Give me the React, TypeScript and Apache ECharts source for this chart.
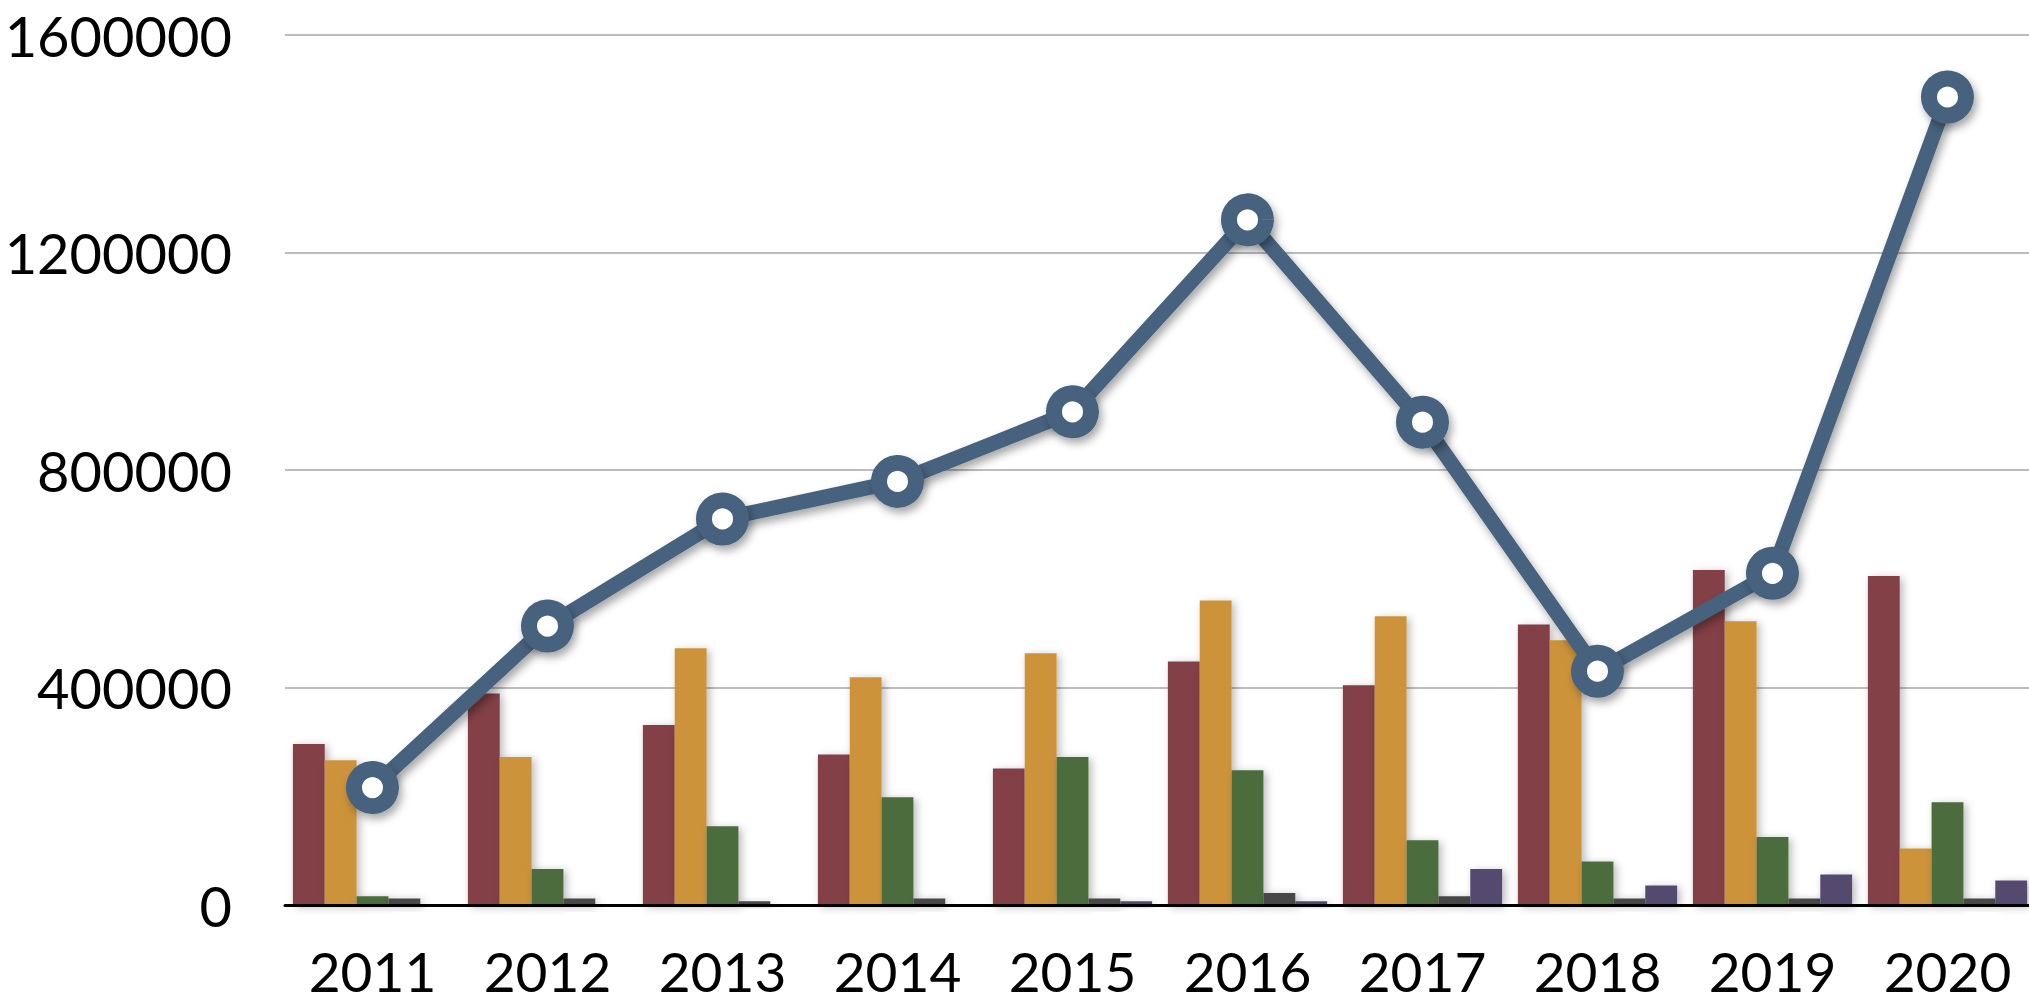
import React, { useEffect, useRef } from "react";
import * as echarts from "echarts";

const categories = ["2011", "2012", "2013", "2014", "2015", "2016", "2017", "2018", "2019", "2020"];
const redValues = [296000, 389000, 331000, 277000, 251000, 448000, 404000, 516000, 616000, 605000];
const goldValues = [266000, 272000, 472000, 419000, 463000, 560000, 531000, 487000, 522000, 104000];
const greenValues = [16000, 66000, 145000, 198000, 272000, 248000, 119000, 80000, 125000, 189000];
const greyValues = [12000, 12000, 7000, 12000, 12000, 22000, 16000, 12000, 12000, 12000];
const purpleValues = [0, 0, 0, 0, 7000, 7000, 66000, 36000, 56000, 45000];
const totalValues = [216000, 513000, 710000, 779000, 907000, 1260000, 888000, 430000, 610000, 1486000];
const yTicks = [0, 400000, 800000, 1200000, 1600000];

const FONT = "Lato";

export default function App() {
  const ref = useRef<HTMLDivElement>(null);
  useEffect(() => {
    if (!ref.current) return;
    const chart = echarts.init(ref.current, null, { renderer: "svg" });
    const barShadow = {
      shadowBlur: 8,
      shadowOffsetX: 3,
      shadowOffsetY: 2,
      shadowColor: "rgba(0,0,0,0.28)",
    };
    const mkBar = (name: string, data: number[], color: string) => ({
      name,
      type: "bar",
      data,
      barGap: "0%",
      barCategoryGap: "9%",
      itemStyle: { color, ...barShadow },
      z: 2,
    });
    chart.setOption({
      animation: false,
      backgroundColor: "#ffffff",
      grid: {
        left: 285,
        top: 35,
        width: 1750,
        height: 870,
        containLabel: false,
        outerBoundsMode: "none",
      },
      xAxis: {
        type: "category",
        data: categories,
        boundaryGap: true,
        axisLine: { show: true, lineStyle: { color: "#000000", width: 3 } },
        axisTick: { show: false },
        axisLabel: {
          color: "#000000",
          fontFamily: FONT,
          fontSize: 55,
          lineHeight: 44,
          margin: 44,
        },
        splitLine: { show: false },
        z: 5,
      },
      yAxis: {
        type: "value",
        min: yTicks[0],
        max: yTicks[yTicks.length - 1],
        interval: 400000,
        axisLine: { show: false },
        axisTick: { show: false },
        axisLabel: {
          color: "#000000",
          fontFamily: FONT,
          fontSize: 56,
          margin: 53,
          showMinLabel: true,
          formatter: (v: number) => String(v),
        },
        splitLine: {
          show: true,
          lineStyle: { color: "#bdbdbd", width: 2 },
          showMinLine: false,
        },
      },
      series: [
        mkBar("A", redValues, "#843f46"),
        mkBar("B", goldValues, "#cd933a"),
        mkBar("C", greenValues, "#4b6c3c"),
        mkBar("D", greyValues, "#464646"),
        mkBar("E", purpleValues, "#544a70"),
        {
          name: "Total",
          type: "line",
          data: totalValues,
          z: 10,
          symbol: "circle",
          symbolSize: 37,
          lineStyle: {
            color: "#46627e",
            width: 15,
            shadowBlur: 8,
            shadowOffsetX: 3,
            shadowOffsetY: 5,
            shadowColor: "rgba(0,0,0,0.35)",
          },
          itemStyle: {
            color: "#ffffff",
            borderColor: "#46627e",
            borderWidth: 16,
            shadowBlur: 8,
            shadowOffsetX: 3,
            shadowOffsetY: 5,
            shadowColor: "rgba(0,0,0,0.35)",
          },
        },
      ],
    });
    return () => chart.dispose();
  }, []);
  return (
    <div
      style={{
        position: "fixed",
        left: 0,
        top: 0,
        width: 2029,
        height: 1003,
        overflow: "hidden",
        background: "#ffffff",
      }}
    >
      <div ref={ref} style={{ width: 2045, height: 1003 }} />
    </div>
  );
}
